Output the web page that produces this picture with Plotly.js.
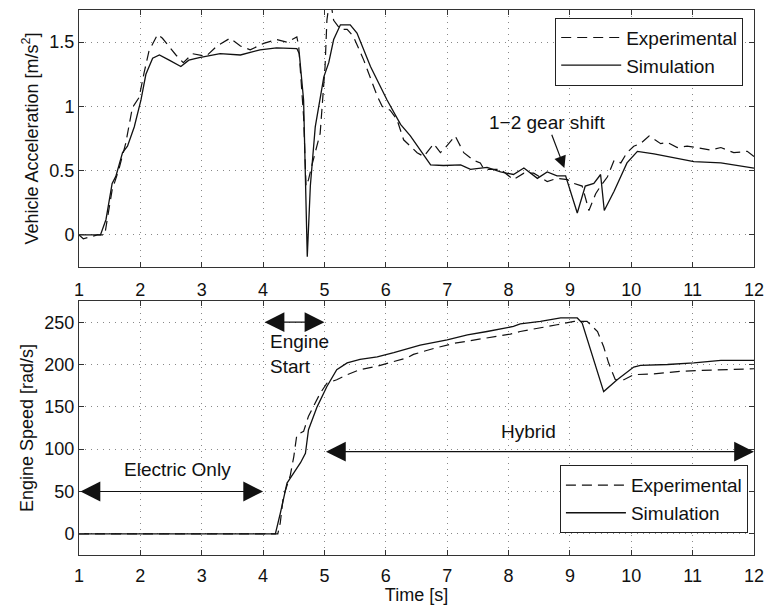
<!DOCTYPE html>
<html>
<head>
<meta charset="utf-8">
<script src="https://cdn.plot.ly/plotly-3.0.1.min.js"></script>
<style>html,body{margin:0;padding:0;background:#fff;}#chart{width:764px;height:605px;}</style>
</head>
<body>
<div id="chart"></div>
<script>
// ---- Data ----
const accSimT = [1, 1.35, 1.44, 1.54, 1.60, 1.71, 1.79, 1.90, 2.01, 2.09, 2.20, 2.31, 2.47, 2.66, 2.79, 2.96, 3.30, 3.63, 3.95, 4.22, 4.55, 4.59, 4.66, 4.72, 4.77, 4.85, 4.99, 5.07, 5.15, 5.26, 5.42, 5.53, 5.75, 6.02, 6.24, 6.40, 6.73, 6.94, 7.22, 7.38, 7.65, 7.87, 8.08, 8.25, 8.47, 8.63, 8.79, 8.93, 9.12, 9.25, 9.39, 9.50, 9.56, 9.72, 9.93, 10.10, 10.37, 10.69, 11.02, 11.46, 12.0];
const accSim = [0, 0, 0.12, 0.40, 0.455, 0.64, 0.69, 0.84, 1.05, 1.25, 1.375, 1.40, 1.36, 1.31, 1.36, 1.38, 1.41, 1.40, 1.44, 1.455, 1.45, 1.41, 1.05, -0.17, 0.38, 0.84, 1.23, 1.34, 1.52, 1.635, 1.635, 1.57, 1.31, 1.05, 0.86, 0.77, 0.545, 0.54, 0.545, 0.51, 0.525, 0.49, 0.47, 0.52, 0.44, 0.49, 0.46, 0.46, 0.17, 0.38, 0.40, 0.47, 0.19, 0.34, 0.56, 0.65, 0.63, 0.60, 0.57, 0.56, 0.52];

const accExpT = [1, 1.07, 1.30, 1.42, 1.46, 1.54, 1.65, 1.76, 1.87, 1.98, 2.06, 2.14, 2.28, 2.36, 2.58, 2.70, 2.85, 3.07, 3.25, 3.46, 3.63, 3.79, 4.01, 4.22, 4.39, 4.55, 4.58, 4.66, 4.70, 4.74, 4.80, 4.93, 5.01, 5.04, 5.09, 5.15, 5.26, 5.37, 5.47, 5.64, 5.86, 5.94, 6.07, 6.18, 6.29, 6.51, 6.62, 6.78, 6.89, 6.97, 7.13, 7.27, 7.43, 7.54, 7.60, 7.87, 8.08, 8.25, 8.41, 8.63, 8.79, 8.96, 9.07, 9.20, 9.31, 9.42, 9.50, 9.61, 9.72, 9.83, 9.93, 10.04, 10.15, 10.29, 10.48, 10.59, 10.75, 10.91, 11.07, 11.29, 11.46, 11.67, 11.89, 12.0];
const accExp = [0, -0.03, 0, 0, 0.12, 0.35, 0.51, 0.71, 0.99, 1.07, 1.26, 1.43, 1.56, 1.53, 1.40, 1.34, 1.41, 1.39, 1.47, 1.53, 1.47, 1.44, 1.49, 1.52, 1.50, 1.54, 1.47, 0.92, 0.38, 0.43, 0.55, 0.79, 1.31, 1.67, 1.85, 1.67, 1.60, 1.60, 1.545, 1.36, 1.08, 1.0, 0.97, 0.90, 0.74, 0.64, 0.61, 0.71, 0.64, 0.68, 0.77, 0.64, 0.58, 0.56, 0.51, 0.51, 0.43, 0.48, 0.48, 0.415, 0.44, 0.43, 0.40, 0.38, 0.19, 0.32, 0.38, 0.45, 0.58, 0.56, 0.64, 0.69, 0.71, 0.77, 0.71, 0.72, 0.68, 0.69, 0.68, 0.66, 0.68, 0.64, 0.65, 0.61];

const spdSimT = [1, 4.20, 4.28, 4.39, 4.50, 4.61, 4.69, 4.74, 4.88, 5.04, 5.20, 5.37, 5.58, 5.86, 6.13, 6.40, 6.56, 7.0, 7.33, 7.65, 8.08, 8.19, 8.52, 8.85, 9.12, 9.20, 9.39, 9.55, 9.77, 10.04, 10.15, 10.59, 11.02, 11.46, 12.0];
const spdSim = [0, 0, 24, 60, 72, 84, 95, 123, 150, 174, 194, 202, 206, 209, 214, 220, 223, 229, 235, 239, 245, 248, 251, 255, 255, 249, 206, 168, 182, 197, 199, 200, 202, 205, 205];

const spdExpT = [1, 4.24, 4.28, 4.33, 4.44, 4.50, 4.55, 4.66, 4.74, 4.82, 4.93, 5.04, 5.20, 5.37, 5.58, 5.86, 6.13, 6.35, 6.45, 6.78, 7.11, 7.43, 7.76, 8.03, 8.19, 8.52, 8.79, 9.07, 9.28, 9.45, 9.55, 9.63, 9.74, 9.88, 10.04, 10.37, 10.80, 11.13, 11.84, 12.0];
const spdExp = [0, 0, 13, 44, 68, 91, 117, 121, 139, 150, 166, 178, 182, 188, 194, 198, 204, 208, 212, 219, 225, 229, 233, 236, 239, 243, 247, 251, 251, 239, 221, 202, 182, 182, 188, 189, 192, 193, 195, 195];

const seriesNames = ['Experimental', 'Simulation'];
const xTicks = [1, 2, 3, 4, 5, 6, 7, 8, 9, 10, 11, 12];
const accTicks = [0, 0.5, 1, 1.5];
const spdTicks = [0, 50, 100, 150, 200, 250];

// ---- Styling ----
const FONT = 'Liberation Sans, Arial, Helvetica, sans-serif';
const INK = '#111';
const dashLine = {color: INK, width: 1.2, dash: '10px,6px'};
const solidLine = {color: INK, width: 1.3};

const traces = [
  {x: accExpT, y: accExp, xaxis: 'x', yaxis: 'y', mode: 'lines', name: seriesNames[0], line: dashLine, legend: 'legend'},
  {x: accSimT, y: accSim, xaxis: 'x', yaxis: 'y', mode: 'lines', name: seriesNames[1], line: solidLine, legend: 'legend'},
  {x: spdExpT, y: spdExp, xaxis: 'x2', yaxis: 'y2', mode: 'lines', name: seriesNames[0], line: dashLine, legend: 'legend2'},
  {x: spdSimT, y: spdSim, xaxis: 'x2', yaxis: 'y2', mode: 'lines', name: seriesNames[1], line: solidLine, legend: 'legend2'}
];

const axisCommon = {
  showline: true, linecolor: '#333', linewidth: 1, mirror: 'ticks',
  ticks: 'inside', ticklen: 5, tickcolor: '#333',
  showgrid: true, gridcolor: '#888', gridwidth: 1, griddash: '1px,5px',
  zeroline: false, ticklabeloverflow: 'allow', tickfont: {size: 18, color: INK, family: FONT}
};

const arrowCommon = {showarrow: true, arrowhead: 2, arrowsize: 3.3, arrowwidth: 1.2, arrowcolor: INK, text: '', arrowside: 'end+start'};

const legendCommon = {bgcolor: '#fff', bordercolor: '#222', borderwidth: 1, itemwidth: 60,
  font: {size: 19, family: FONT, color: INK}, tracegroupgap: 0};

const layout = {
  width: 764, height: 605,
  margin: {l: 79, r: 10, t: 10, b: 50},
  paper_bgcolor: '#fff', plot_bgcolor: '#fff',
  font: {family: FONT, size: 18, color: INK},
  showlegend: true,
  xaxis: Object.assign({}, axisCommon, {domain: [0, 1], anchor: 'y', range: [1, 12], tickvals: xTicks, ticklabelstandoff: 6}),
  yaxis: Object.assign({}, axisCommon, {domain: [0.5284, 1], anchor: 'x', range: [-0.25, 1.75], tickvals: accTicks,
    title: {text: 'Vehicle Acceleration [m/s<sup>2</sup>]', font: {size: 18, family: FONT, color: INK}, standoff: 6}}),
  xaxis2: Object.assign({}, axisCommon, {domain: [0, 1], anchor: 'y2', range: [1, 12], tickvals: xTicks, ticklabelstandoff: 4,
    title: {text: 'Time [s]', font: {size: 18, family: FONT, color: INK}, standoff: 5}}),
  yaxis2: Object.assign({}, axisCommon, {domain: [0, 0.466], anchor: 'x2', range: [-25, 275], tickvals: spdTicks,
    title: {text: 'Engine Speed [rad/s]', font: {size: 18, family: FONT, color: INK}, standoff: 6}}),
  legend: Object.assign({}, legendCommon, {x: 0.984, y: 0.986, xanchor: 'right', yanchor: 'top'}),
  legend2: Object.assign({}, legendCommon, {x: 0.991, y: 0.040, xanchor: 'right', yanchor: 'bottom'}),
  annotations: [
    {xref: 'x', yref: 'y', x: 8.91, y: 0.52, axref: 'x', ayref: 'y', ax: 8.63, ay: 0.872,
      text: '1\u22122 gear shift', showarrow: true, arrowhead: 2, arrowsize: 2, arrowwidth: 1.2, arrowcolor: INK,
      font: {size: 19, family: FONT, color: INK}},
    Object.assign({}, arrowCommon, {xref: 'x2', yref: 'y2', axref: 'x2', ayref: 'y2', x: 5, y: 250, ax: 4, ay: 250}),
    Object.assign({}, arrowCommon, {xref: 'x2', yref: 'y2', axref: 'x2', ayref: 'y2', x: 4, y: 50, ax: 1, ay: 50}),
    Object.assign({}, arrowCommon, {xref: 'x2', yref: 'y2', axref: 'x2', ayref: 'y2', x: 12, y: 97, ax: 5, ay: 97}),
    {xref: 'x2', yref: 'y2', x: 4.59, y: 213, text: 'Engine<br>Start', align: 'left', showarrow: false,
      font: {size: 19, family: FONT, color: INK}},
    {xref: 'x2', yref: 'y2', x: 2.6, y: 75.7, text: 'Electric Only', showarrow: false,
      font: {size: 19, family: FONT, color: INK}},
    {xref: 'x2', yref: 'y2', x: 8.32, y: 120.6, text: 'Hybrid', showarrow: false,
      font: {size: 19, family: FONT, color: INK}}
  ]
};

Plotly.newPlot('chart', traces, layout, {displayModeBar: false, staticPlot: true});
</script>
</body>
</html>
